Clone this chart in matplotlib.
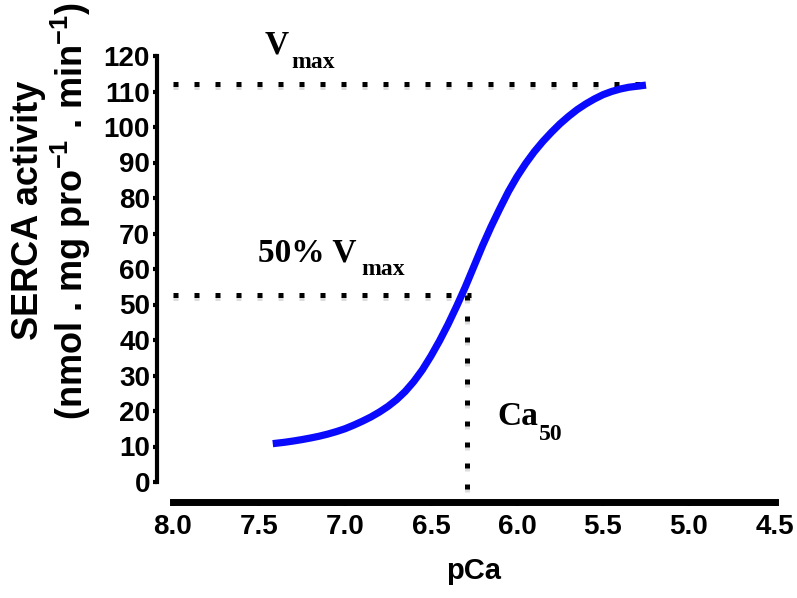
import matplotlib
matplotlib.use("Agg")
import matplotlib.pyplot as plt
from matplotlib.transforms import offset_copy

# SERCA activity vs pCa
pca = [7.42, 7.35, 7.30, 7.25, 7.20, 7.15, 7.10, 7.05, 7.00, 6.95, 6.90, 6.85,
       6.80, 6.75, 6.70, 6.65, 6.60, 6.55, 6.50, 6.45, 6.40, 6.35, 6.30, 6.25,
       6.20, 6.15, 6.10, 6.05, 6.00, 5.95, 5.90, 5.85, 5.80, 5.75, 5.70, 5.65,
       5.60, 5.55, 5.50, 5.45, 5.40, 5.35, 5.30, 5.25]
activity = [10.8, 11.2, 11.55, 11.95, 12.4, 12.9, 13.5, 14.2, 15.0, 16.0, 17.1, 18.3,
            19.7, 21.3, 23.2, 25.5, 28.3, 31.6, 35.5, 39.8, 44.5, 49.6, 55.0, 60.8,
            66.6, 72.0, 77.0, 81.8, 86.0, 89.7, 93.0, 95.9, 98.5, 100.9, 103.0, 104.9,
            106.5, 107.9, 109.1, 110.0, 110.7, 111.2, 111.5, 111.8]

x_ticks = [8.0, 7.5, 7.0, 6.5, 6.0, 5.5, 5.0, 4.5]
y_ticks = list(range(0, 121, 10))

vmax_level = 112.0
half_level = 52.7
ca50 = 6.29

plt.rcParams["font.family"] = ["Liberation Sans", "DejaVu Sans"]
plt.rcParams["font.weight"] = "bold"
plt.rcParams["mathtext.fontset"] = "custom"
plt.rcParams["mathtext.bf"] = "Liberation Sans:bold"
plt.rcParams["mathtext.rm"] = "Liberation Sans:bold"

W, H = 797, 598
fig = plt.figure(figsize=(W / 100, H / 100), dpi=100)
ax = fig.add_axes([173 / W, 1 - 482 / H, (775 - 173) / W, (482 - 56) / H])

ax.set_xlim(8.0, 4.5)
ax.set_ylim(0, 120)

# guide lines (with a faint drop shadow like the original)
dots = dict(lw=3.6, linestyle=(0, (1, 3.2)), dash_capstyle="butt", clip_on=False)
shadow = offset_copy(ax.transData, fig=fig, x=0, y=-3, units="dots")
guides = [([8.0, 5.25], [vmax_level, vmax_level]),
          ([8.0, 6.27], [half_level, half_level]),
          ([ca50, ca50], [half_level, -6])]
for gx, gy in guides:
    ax.plot(gx, gy, color="#dcdcdc", transform=shadow, zorder=1, **dots)
    ax.plot(gx, gy, color="black", zorder=2, **dots)

# fitted curve
ax.plot(pca, activity, color="#0a0aff", lw=5.2, solid_capstyle="butt",
        solid_joinstyle="round", zorder=3)

# Prism-like offset axes
for s in ["top", "right"]:
    ax.spines[s].set_visible(False)
ax.spines["left"].set_position(("outward", 11.5))
ax.spines["left"].set_linewidth(3)
ax.spines["left"].set_bounds(0, 120)
ax.spines["bottom"].set_position(("outward", 14.4))
ax.spines["bottom"].set_linewidth(5)
ax.spines["bottom"].set_bounds(8.0, 4.5)

ax.set_xticks(x_ticks)
ax.set_xticklabels([f"{t:.1f}" for t in x_ticks])
ax.set_yticks(y_ticks)
ax.tick_params(axis="y", length=3, width=3, pad=2, labelsize=20)
ax.tick_params(axis="x", length=3, width=3, pad=6, labelsize=20)
for lab in ax.get_xticklabels() + ax.get_yticklabels():
    lab.set_fontweight("bold")

ax.set_xlabel("pCa", fontsize=21, fontweight="bold", labelpad=12)

# y label, two lines
fig.text(38 / W, 1 - 210 / H, "SERCA activity", rotation=90, rotation_mode="anchor",
         ha="center", va="baseline", fontsize=26, fontweight="bold")
fig.text(83 / W, 1 - 211 / H, r"(nmol . mg pro$^{\mathbf{-1}}$ . min$^{\mathbf{-1}}$)",
         rotation=90, rotation_mode="anchor", ha="center", va="baseline",
         fontsize=26, fontweight="bold")

# annotations
serif = dict(family=["Liberation Serif", "DejaVu Serif"], fontweight="bold", va="baseline")
fig.text(265 / W, 1 - 53 / H, "V", fontsize=24, **serif)
fig.text(291 / W, 1 - 68 / H, "max", fontsize=17, **serif)
fig.text(258 / W, 1 - 262 / H, "50% V", fontsize=24, **serif)
fig.text(361 / W, 1 - 275 / H, "max", fontsize=17, **serif)
fig.text(497 / W, 1 - 425 / H, "Ca", fontsize=24, **serif)
fig.text(539 / W, 1 - 440 / H, "50", fontsize=17, **serif)

fig.savefig("out.png", dpi=100)
